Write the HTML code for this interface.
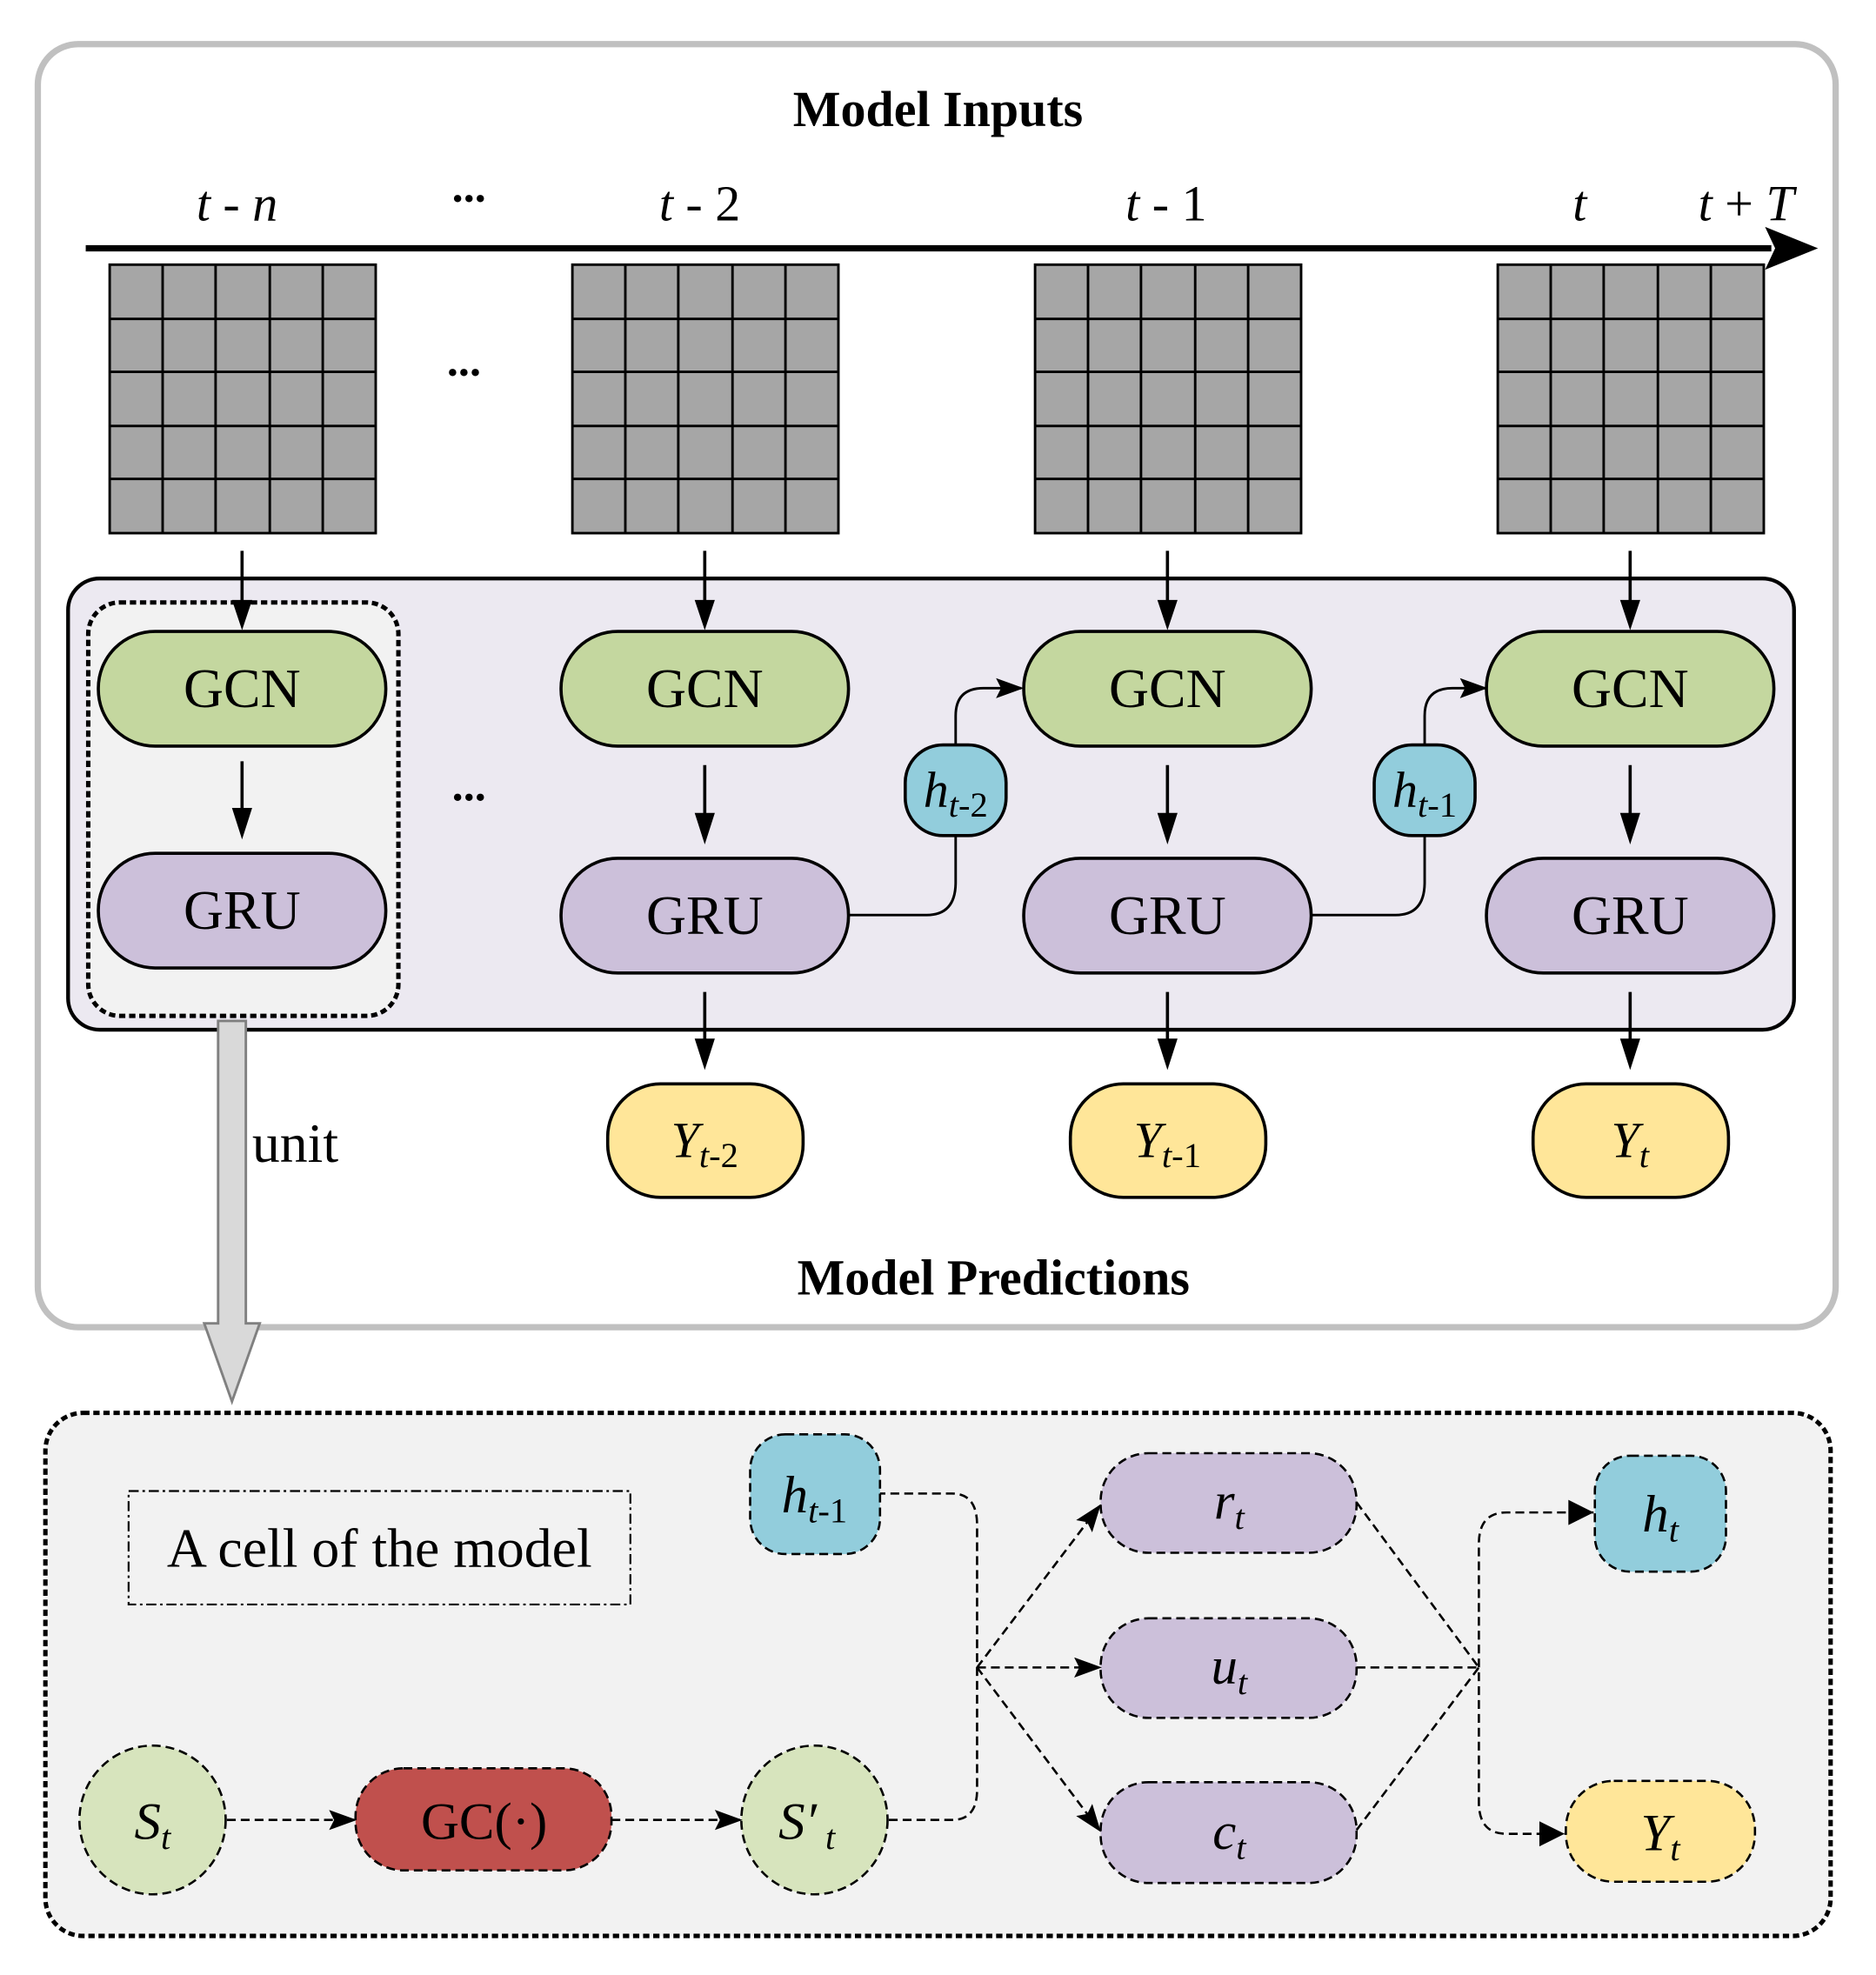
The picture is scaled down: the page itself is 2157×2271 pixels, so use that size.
<!DOCTYPE html>
<html><head><meta charset="utf-8"><style>
html,body{margin:0;padding:0;background:#fff;}
svg{display:block;}
svg text{font-family:"Liberation Serif","DejaVu Serif",serif;}
</style></head><body>
<svg width="2157" height="2271" viewBox="0 0 1488 1567" preserveAspectRatio="none" xmlns="http://www.w3.org/2000/svg" font-family="Liberation Serif, DejaVu Serif, serif">
<defs>
<marker id="ar2" markerWidth="22" markerHeight="16" refX="20" refY="8" orient="auto" markerUnits="userSpaceOnUse" viewBox="0 0 22 16"><path d="M0,0 L22,8 L0,16 L4,8 Z" fill="#000"/></marker>
</defs>
<rect x="30" y="35" width="1426" height="1018" rx="32" fill="#fff" stroke="#c0c0c0" stroke-width="5"/>
<text x="744" y="100" font-size="40" font-weight="bold" text-anchor="middle" font-family="Liberation Serif, serif">Model Inputs</text>
<g font-size="40" font-style="italic" text-anchor="middle" font-family="Liberation Serif, serif">
<text x="188" y="175">t<tspan font-style="normal"> - </tspan>n</text>
<text x="555" y="175">t<tspan font-style="normal"> - 2</tspan></text>
<text x="925" y="175">t<tspan font-style="normal"> - 1</tspan></text>
<text x="1253" y="175">t</text>
<text x="1385" y="175">t<tspan font-style="normal"> + </tspan>T</text>
</g>
<text x="372" y="160" font-size="36" font-weight="bold" text-anchor="middle" font-family="Liberation Serif, serif">...</text>
<line x1="68" y1="197" x2="1405" y2="197" stroke="#000" stroke-width="5"/>
<path d="M1400,180 L1442,197 L1400,214 L1408,197 Z" fill="#000"/>
<g stroke="#000" stroke-width="2">
<rect x="87" y="210" width="211" height="213" fill="#a6a6a6"/>
<rect x="454" y="210" width="211" height="213" fill="#a6a6a6"/>
<rect x="821" y="210" width="211" height="213" fill="#a6a6a6"/>
<rect x="1188" y="210" width="211" height="213" fill="#a6a6a6"/>
<path d="M129,210V423M171,210V423M214,210V423M256,210V423M87,253H298M87,295H298M87,338H298M87,380H298
M496,210V423M538,210V423M581,210V423M623,210V423M454,253H665M454,295H665M454,338H665M454,380H665
M863,210V423M905,210V423M948,210V423M990,210V423M821,253H1032M821,295H1032M821,338H1032M821,380H1032
M1230,210V423M1272,210V423M1315,210V423M1357,210V423M1188,253H1399M1188,295H1399M1188,338H1399M1188,380H1399" fill="none"/>
</g>
<text x="368" y="298" font-size="36" font-weight="bold" text-anchor="middle" font-family="Liberation Serif, serif">...</text>
<rect x="54" y="459" width="1369" height="358" rx="25" fill="#ece9f1" stroke="#000" stroke-width="3"/>
<rect x="70" y="478" width="246" height="328" rx="25" fill="#f2f2f2" stroke="#000" stroke-width="3.5" stroke-dasharray="5,3"/>
<text x="372" y="635" font-size="36" font-weight="bold" text-anchor="middle" font-family="Liberation Serif, serif">...</text>
<g stroke="#000" stroke-width="2.5">
<rect x="78" y="501" width="228" height="91" rx="45" fill="#c4d79f"/>
<rect x="445" y="501" width="228" height="91" rx="45" fill="#c4d79f"/>
<rect x="812" y="501" width="228" height="91" rx="45" fill="#c4d79f"/>
<rect x="1179" y="501" width="228" height="91" rx="45" fill="#c4d79f"/>
<rect x="78" y="677" width="228" height="91" rx="45" fill="#ccc0da"/>
<rect x="445" y="681" width="228" height="91" rx="45" fill="#ccc0da"/>
<rect x="812" y="681" width="228" height="91" rx="45" fill="#ccc0da"/>
<rect x="1179" y="681" width="228" height="91" rx="45" fill="#ccc0da"/>
<rect x="482" y="860" width="155" height="90" rx="42" fill="#ffe699"/>
<rect x="849" y="860" width="155" height="90" rx="42" fill="#ffe699"/>
<rect x="1216" y="860" width="155" height="90" rx="42" fill="#ffe699"/>
<rect x="718" y="591" width="80" height="72" rx="30" fill="#92cddc"/>
<rect x="1090" y="591" width="80" height="72" rx="30" fill="#92cddc"/>
</g>
<g font-size="44" text-anchor="middle" font-family="Liberation Serif, serif">
<text x="192" y="561">GCN</text><text x="559" y="561">GCN</text><text x="926" y="561">GCN</text><text x="1293" y="561">GCN</text>
<text x="192" y="737">GRU</text><text x="559" y="741">GRU</text><text x="926" y="741">GRU</text><text x="1293" y="741">GRU</text>
</g>
<g font-size="40" font-style="italic" text-anchor="middle" font-family="Liberation Serif, serif">
<text x="559" y="918">Y<tspan font-size="28" dy="8">t</tspan><tspan font-size="28" font-style="normal">-2</tspan></text>
<text x="926" y="918">Y<tspan font-size="28" dy="8">t</tspan><tspan font-size="28" font-style="normal">-1</tspan></text>
<text x="1293" y="918">Y<tspan font-size="28" dy="8">t</tspan></text>
<text x="758" y="640">h<tspan font-size="28" dy="8">t</tspan><tspan font-size="28" font-style="normal">-2</tspan></text>
<text x="1130" y="640">h<tspan font-size="28" dy="8">t</tspan><tspan font-size="28" font-style="normal">-1</tspan></text>
</g>
<g stroke="#000" stroke-width="2.5" fill="none">
<path d="M192,437V480M559,437V480M926,437V480M1293,437V480"/>
<path d="M192,604V645M559,607V649M926,607V649M1293,607V649"/>
<path d="M559,787V828M926,787V828M1293,787V828"/>
</g>
<g fill="#000">
<path d="M184,476L192,500L200,476Z"/><path d="M551,476L559,500L567,476Z"/><path d="M918,476L926,500L934,476Z"/><path d="M1285,476L1293,500L1301,476Z"/>
<path d="M184,641L192,666L200,641Z"/><path d="M551,645L559,670L567,645Z"/><path d="M918,645L926,670L934,645Z"/><path d="M1285,645L1293,670L1301,645Z"/>
<path d="M551,824L559,849L567,824Z"/><path d="M918,824L926,849L934,824Z"/><path d="M1285,824L1293,849L1301,824Z"/>
</g>
<g stroke="#000" stroke-width="2" fill="none">
<path d="M673,726H735Q758,726 758,700V663"/>
<path d="M758,591V568Q758,546 780,546H810" marker-end="url(#ar2)"/>
<path d="M1040,726H1107Q1130,726 1130,700V663"/>
<path d="M1130,591V568Q1130,546 1152,546H1178" marker-end="url(#ar2)"/>
</g>
<path d="M173,810H195V1050H206L184,1112L162,1050H173Z" fill="#d9d9d9" stroke="#808080" stroke-width="2"/>
<text x="200" y="922" font-size="44" font-family="Liberation Serif, serif">unit</text>
<text x="788" y="1027" font-size="40" font-weight="bold" text-anchor="middle" font-family="Liberation Serif, serif">Model Predictions</text>

<rect x="36" y="1121" width="1416" height="415" rx="30" fill="#f2f2f2" stroke="#000" stroke-width="3.5" stroke-dasharray="5,3"/>
<rect x="102" y="1183" width="398" height="90" fill="none" stroke="#000" stroke-width="1.5" stroke-dasharray="8,3,2,3"/>
<text x="301" y="1243" font-size="44" text-anchor="middle" font-family="Liberation Serif, serif">A cell of the model</text>
<g stroke="#000" stroke-width="1.8" stroke-dasharray="7,4">
<rect x="595" y="1138" width="103" height="95" rx="28" fill="#92cddc"/>
<rect x="873" y="1153" width="203" height="79" rx="38" fill="#ccc0da"/>
<rect x="873" y="1284" width="203" height="79" rx="38" fill="#ccc0da"/>
<rect x="873" y="1414" width="203" height="80" rx="38" fill="#ccc0da"/>
<rect x="1265" y="1155" width="104" height="92" rx="28" fill="#92cddc"/>
<rect x="1242" y="1413" width="150" height="80" rx="38" fill="#ffe699"/>
<ellipse cx="121" cy="1444" rx="58" ry="59" fill="#d7e4bd"/>
<ellipse cx="646" cy="1444" rx="58" ry="59" fill="#d7e4bd"/>
<rect x="282" y="1403" width="203" height="81" rx="38" fill="#c0504d"/>
</g>
<g font-size="42" font-style="italic" text-anchor="middle" font-family="Liberation Serif, serif">
<text x="646" y="1200">h<tspan font-size="28" dy="8">t</tspan><tspan font-size="28" font-style="normal">-1</tspan></text>
<text x="975" y="1205">r<tspan font-size="28" dy="8">t</tspan></text>
<text x="975" y="1336">u<tspan font-size="28" dy="8">t</tspan></text>
<text x="975" y="1467">c<tspan font-size="28" dy="8">t</tspan></text>
<text x="1317" y="1215">h<tspan font-size="28" dy="8">t</tspan></text>
<text x="1317" y="1468">Y<tspan font-size="28" dy="8">t</tspan></text>
<text x="121" y="1459">S<tspan font-size="28" dy="8">t</tspan></text>
<text x="640" y="1459">S&#8242;<tspan font-size="28" dy="8"> t</tspan></text>
<text x="384" y="1459" font-style="normal">GC(·)</text>
</g>
<g stroke="#000" stroke-width="1.8" stroke-dasharray="7,4" fill="none">
<path d="M180,1444H281" marker-end="url(#ar2)"/>
<path d="M485,1444H587" marker-end="url(#ar2)"/>
<path d="M705,1444H755Q775,1444 775,1420V1210Q775,1185 755,1185H698"/>
<path d="M775,1323L872,1195" marker-end="url(#ar2)"/>
<path d="M775,1323H872" marker-end="url(#ar2)"/>
<path d="M775,1323L872,1452" marker-end="url(#ar2)"/>
<path d="M1076,1192L1173,1323"/>
<path d="M1076,1323H1173"/>
<path d="M1076,1452L1173,1323"/>
<path d="M1264,1200H1195Q1173,1200 1173,1225V1430Q1173,1455 1195,1455H1241"/>
</g>
<path d="M1244,1190L1264,1200L1244,1210Z" fill="#000"/>
<path d="M1221,1445L1241,1455L1221,1465Z" fill="#000"/>
</svg>
</body></html>
